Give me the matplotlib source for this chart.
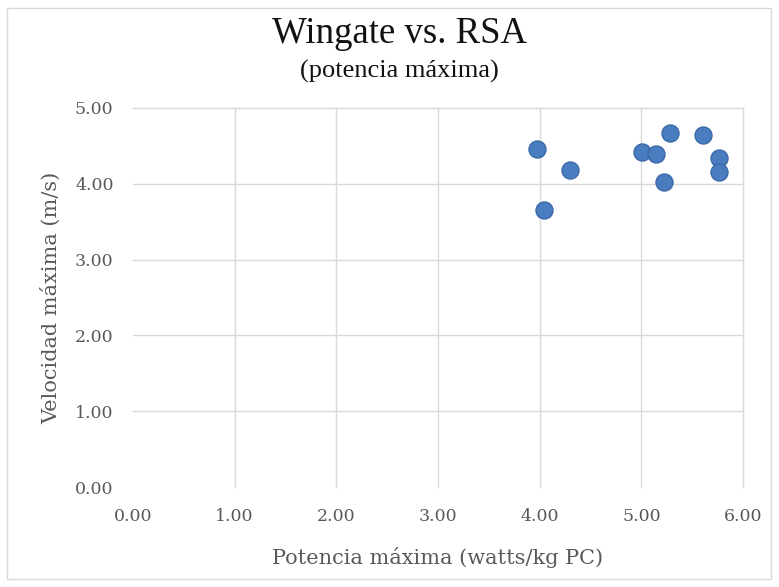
import matplotlib
matplotlib.use("Agg")
import matplotlib.pyplot as plt
from matplotlib.patches import Rectangle

# Peak power (W/kg body mass) vs. peak sprint velocity (m/s)
potencia = [3.97, 4.30, 4.04, 5.01, 5.14, 5.28, 5.22, 5.61, 5.76, 5.76]
velocidad = [4.46, 4.18, 3.66, 4.42, 4.39, 4.67, 4.02, 4.64, 4.34, 4.15]

x_ticks = [0, 1, 2, 3, 4, 5, 6]
y_ticks = [0, 1, 2, 3, 4, 5]

title = "Wingate vs. RSA"
subtitle = "(potencia máxima)"
x_label = "Potencia máxima (watts/kg PC)"
y_label = "Velocidad máxima (m/s)"

title_font = ["Liberation Serif", "DejaVu Serif"]
label_font = ["DejaVu Serif"]
grid_col = "#d9d9d9"
text_col = "#595959"

fig = plt.figure(figsize=(7.79, 5.87), dpi=100)
ax = fig.add_axes([133 / 779, 1 - 487 / 587, (743 - 133) / 779, (487 - 108) / 587])

ax.scatter(potencia, velocidad, s=150, color="#4a7dbf", edgecolor="#3b69a8",
           linewidth=1.0, zorder=3)

ax.set_xlim(0, 6)
ax.set_ylim(0, 5)
ax.set_xticks(x_ticks)
ax.set_yticks(y_ticks)
ax.set_xticklabels([f"{v:.2f}" for v in x_ticks])
ax.set_yticklabels([f"{v:.2f}" for v in y_ticks])

# gridlines, leaving out the ones sitting on the zero of each axis
for v in x_ticks[1:]:
    ax.axvline(v, color=grid_col, linewidth=1.0, zorder=0, clip_on=False)
for v in y_ticks[1:]:
    ax.axhline(v, color=grid_col, linewidth=1.0, zorder=0, clip_on=False)

for side in ["left", "bottom", "top", "right"]:
    ax.spines[side].set_visible(False)
ax.tick_params(axis="both", length=0, labelsize=12.5, labelcolor=text_col)
ax.tick_params(axis="x", pad=15)
ax.tick_params(axis="y", pad=14)
for lbl in ax.get_xticklabels() + ax.get_yticklabels():
    lbl.set_family(label_font)

ax.set_xlabel(x_label, fontsize=15, color=text_col, family=label_font, labelpad=16)
ax.set_ylabel(y_label, fontsize=15, color=text_col, family=label_font, labelpad=10)

fig.text(399 / 779, 1 - 43 / 587, title, ha="center", va="baseline", fontsize=26.5,
         color="#111111", family=title_font)
fig.text(399 / 779, 1 - 78 / 587, subtitle, ha="center", va="baseline", fontsize=19,
         color="#111111", family=title_font)

# light frame around the chart area
fig.add_artist(Rectangle((7 / 779, 8 / 587), 764 / 779, 571 / 587,
                         transform=fig.transFigure, fill=False,
                         edgecolor="#d9d9d9", linewidth=1.0))

fig.savefig("out.png", dpi=100, facecolor="white")
